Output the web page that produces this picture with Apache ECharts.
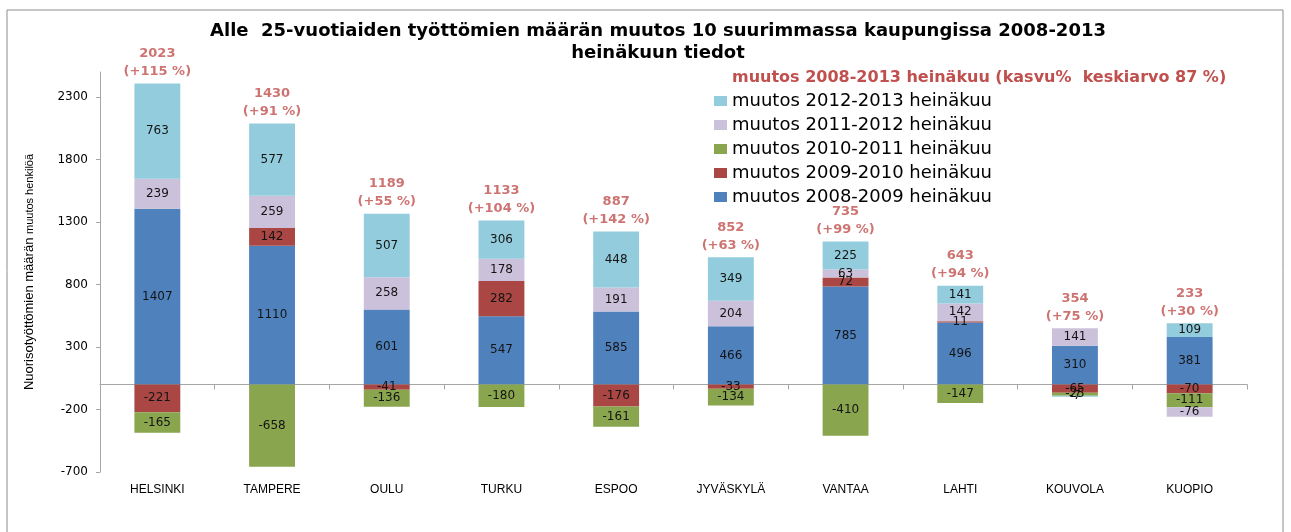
<!DOCTYPE html>
<html>
<head>
    <meta charset="UTF-8">
    <title>Nuorisotyöttömyys</title>
    <script src="https://cdn.jsdelivr.net/npm/echarts@6/dist/echarts.min.js"></script>
    <style>
        html, body { margin: 0; padding: 0; background: #fff; }
        #main { width: 1291px; height: 532px; }
    </style>
</head>
<body>
<div id="main"></div>
<script>
    // kaupungit
    var cities = ['HELSINKI', 'TAMPERE', 'OULU', 'TURKU', 'ESPOO', 'JYVÄSKYLÄ', 'VANTAA', 'LAHTI', 'KOUVOLA', 'KUOPIO'];
    // muutokset vuosittain (heinäkuu)
    var m0809 = [1407, 1110, 601, 547, 585, 466, 785, 496, 310, 381];
    var m0910 = [-221, 142, -41, 282, -176, -33, 72, 11, -65, -70];
    var m1011 = [-165, -658, -136, -180, -161, -134, -410, -147, -25, -111];
    var m1112 = [239, 259, 258, 178, 191, 204, 63, 142, 141, -76];
    var m1213 = [763, 577, 507, 306, 448, 349, 225, 141, -7, 109];
    // kokonaismuutos 2008-2013 ja kasvu%
    var totals = [2023, 1430, 1189, 1133, 887, 852, 735, 643, 354, 233];
    var growth = ['+115 %', '+91 %', '+55 %', '+104 %', '+142 %', '+63 %', '+99 %', '+94 %', '+75 %', '+30 %'];
    // y-akselin asteikko
    var yMin = -700, yMax = 2500, yStep = 500;

    var names = ['muutos 2008-2009 heinäkuu', 'muutos 2009-2010 heinäkuu', 'muutos 2010-2011 heinäkuu',
        'muutos 2011-2012 heinäkuu', 'muutos 2012-2013 heinäkuu'];
    var colors = ['#4F81BD', '#AA4643', '#89A54E', '#CCC1DA', '#93CDDD'];
    var values = [m0809, m0910, m1011, m1112, m1213];

    var series = [];
    for (var i = 0; i < values.length; i++) {
        series.push({
            name: names[i],
            type: 'bar',
            stack: 'kaikki',
            barCategoryGap: '60%',
            itemStyle: {color: colors[i]},
            label: {
                show: true,
                position: 'inside',
                color: '#141414',
                fontFamily: 'DejaVu Sans',
                fontSize: 12
            },
            data: values[i]
        });
    }

    // positiivisen pinon yläreuna -> kokonaismuutoksen teksti sen päälle
    var topPoints = [];
    for (var c = 0; c < cities.length; c++) {
        var pos = 0;
        for (var k = 0; k < values.length; k++) {
            if (values[k][c] > 0) pos += values[k][c];
        }
        topPoints.push({value: pos, total: totals[c], pct: growth[c]});
    }
    series.push({
        name: 'yht',
        type: 'scatter',
        symbolSize: 0,
        silent: true,
        label: {
            show: true,
            position: 'top',
            distance: 3,
            color: '#C0504D',
            fontFamily: 'DejaVu Sans',
            fontWeight: 'bold',
            fontSize: 13,
            lineHeight: 18,
            align: 'center',
            formatter: function (p) {
                return p.data.total + '\n(' + p.data.pct + ')';
            }
        },
        data: topPoints
    });

    var chart = echarts.init(document.getElementById('main'));
    chart.setOption({
        animation: false,
        title: [{
            text: 'Alle  25-vuotiaiden työttömien määrän muutos 10 suurimmassa kaupungissa 2008-2013\nheinäkuun tiedot',
            left: 653,
            top: 15,
            textAlign: 'center',
            textStyle: {
                fontFamily: 'DejaVu Sans',
                fontWeight: 'bold',
                fontSize: 18,
                lineHeight: 22,
                color: '#000'
            }
        }, {
            text: 'muutos 2008-2013 heinäkuu (kasvu%  keskiarvo 87 %)',
            left: 727,
            top: 65,
            textStyle: {
                fontFamily: 'DejaVu Sans',
                fontWeight: 'bold',
                fontSize: 16,
                color: '#C0504D'
            }
        }],
        legend: {
            orient: 'vertical',
            left: 709,
            top: 87,
            icon: 'rect',
            itemWidth: 13,
            itemHeight: 10,
            itemGap: 6,
            data: names.slice().reverse(),
            textStyle: {fontFamily: 'DejaVu Sans', fontSize: 18, lineHeight: 18, color: '#000'}
        },
        graphic: [{
            type: 'rect',
            shape: {x: 7, y: 10, width: 1276, height: 540},
            style: {fill: 'none', stroke: '#8c8c8c', lineWidth: 1},
            silent: true
        }],
        grid: {left: 100, right: 44, top: 72, bottom: 60, outerBoundsMode: 'none', containLabel: false},
        xAxis: {
            type: 'category',
            data: cities,
            axisLine: {onZero: true, lineStyle: {color: '#a6a6a6'}},
            axisTick: {show: true, lineStyle: {color: '#a6a6a6'}},
            axisLabel: {
                interval: 0,
                margin: 12,
                fontFamily: 'Liberation Sans Narrow, Liberation Sans',
                fontSize: 12,
                color: '#000'
            }
        },
        yAxis: {
            type: 'value',
            min: yMin,
            max: yMax,
            interval: yStep,
            name: '{a|Nuorisotyöttömien määrän }{b|muutos henkilöä}',
            nameLocation: 'middle',
            nameRotate: 90,
            nameGap: 64,
            nameTextStyle: {
                rich: {
                    a: {fontFamily: 'Liberation Sans Narrow, Liberation Sans', fontSize: 13, color: '#000'},
                    b: {fontFamily: 'Liberation Sans Narrow, Liberation Sans', fontSize: 11, color: '#000'}
                }
            },
            axisLine: {show: true, lineStyle: {color: '#a6a6a6'}},
            axisTick: {show: true, inside: false, length: 4, lineStyle: {color: '#a6a6a6'}},
            splitLine: {show: false},
            axisLabel: {
                showMaxLabel: false,
                margin: 12,
                fontFamily: 'DejaVu Sans',
                fontSize: 12,
                color: '#000',
                formatter: function (v) { return String(v); }
            }
        },
        series: series
    });
</script>
</body>
</html>
